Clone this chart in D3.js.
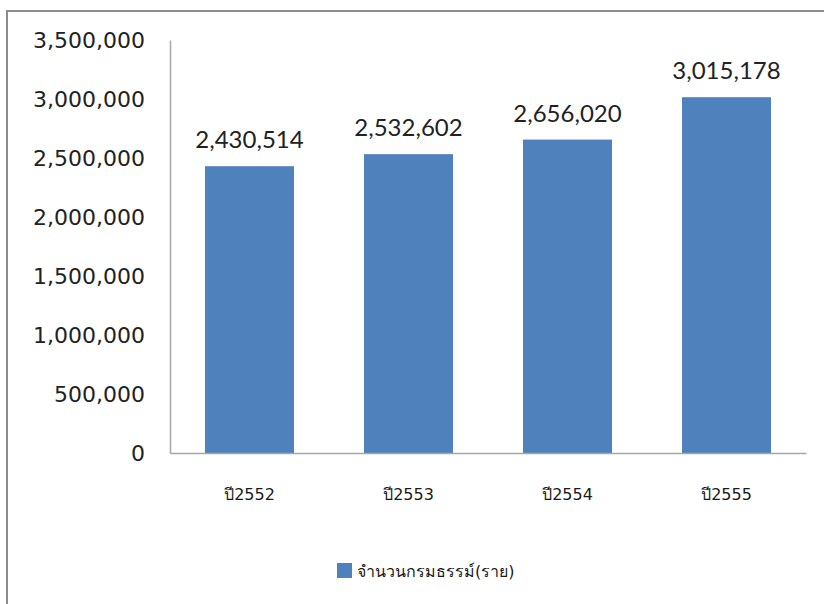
<!DOCTYPE html>
<html><head><meta charset="utf-8">
<script src="https://cdn.jsdelivr.net/npm/d3@7"></script>
<style>body{margin:0;background:#fff;overflow:hidden}</style>
</head><body>
<svg id="c" width="824" height="604"></svg>
<script>
const categories = ["ปี2552","ปี2553","ปี2554","ปี2555"];
const values = [2430514, 2532602, 2656020, 3015178];
const yTicks = [0,500000,1000000,1500000,2000000,2500000,3000000,3500000];
const seriesName = "จำนวนกรมธรรม์(ราย)";

(function(){
const svg = d3.select("#c");
// outer frame
svg.append("rect").attr("x",7).attr("y",11).attr("width",900).attr("height",700)
  .attr("fill","#fff").attr("stroke","#8c8c8c").attr("stroke-width",2);

const pL=170, pR=806, pT=40, pB=453;
const x = d3.scaleBand().domain(categories).range([pL,pR]).paddingInner(0.44).paddingOuter(0.22);
const y = d3.scaleLinear().domain([0,3500000]).range([pB,pT]);
const fmt = d3.format(",");

// y axis
const ya = svg.append("g").attr("transform",`translate(${pL},0)`)
  .call(d3.axisLeft(y).tickValues(yTicks).tickFormat(fmt).tickSize(0).tickPadding(25));
ya.select(".domain").attr("stroke","#a6a6a6").attr("stroke-width",1.5);
ya.selectAll("text").attr("font-family","DejaVu Sans, Verdana, sans-serif").attr("font-size",22).attr("fill","#222");

// bars
svg.selectAll("rect.bar").data(values).join("rect").attr("class","bar")
  .attr("x",(d,i)=>x(categories[i])).attr("width",x.bandwidth())
  .attr("y",d=>y(d)).attr("height",d=>pB-y(d)).attr("fill","#4f81bd");

// x axis
const xa = svg.append("g").attr("transform",`translate(0,${pB})`)
  .call(d3.axisBottom(x).tickSize(0).tickPadding(36));
xa.select(".domain").attr("stroke","#a6a6a6").attr("stroke-width",1.5);
xa.selectAll("text").attr("font-family","Tahoma, 'DejaVu Sans', sans-serif").attr("font-size",16).attr("fill","#1a1a1a");

// value labels
svg.selectAll("text.val").data(values).join("text").attr("class","val")
  .attr("x",(d,i)=>x(categories[i])+x.bandwidth()/2).attr("y",d=>y(d)-18)
  .attr("text-anchor","middle").attr("font-family","Lato, 'Open Sans', sans-serif")
  .attr("font-size",24).attr("fill","#222").text(d=>fmt(d));

// legend
const lg = svg.append("g").attr("transform","translate(337,563)");
lg.append("rect").attr("width",15).attr("height",15).attr("fill","#4f81bd");
lg.append("text").attr("x",20).attr("y",8).attr("dy","0.35em")
  .attr("font-family","Tahoma, 'DejaVu Sans', sans-serif").attr("font-size",16).attr("fill","#1a1a1a").text(seriesName);
})();
</script>
</body></html>
